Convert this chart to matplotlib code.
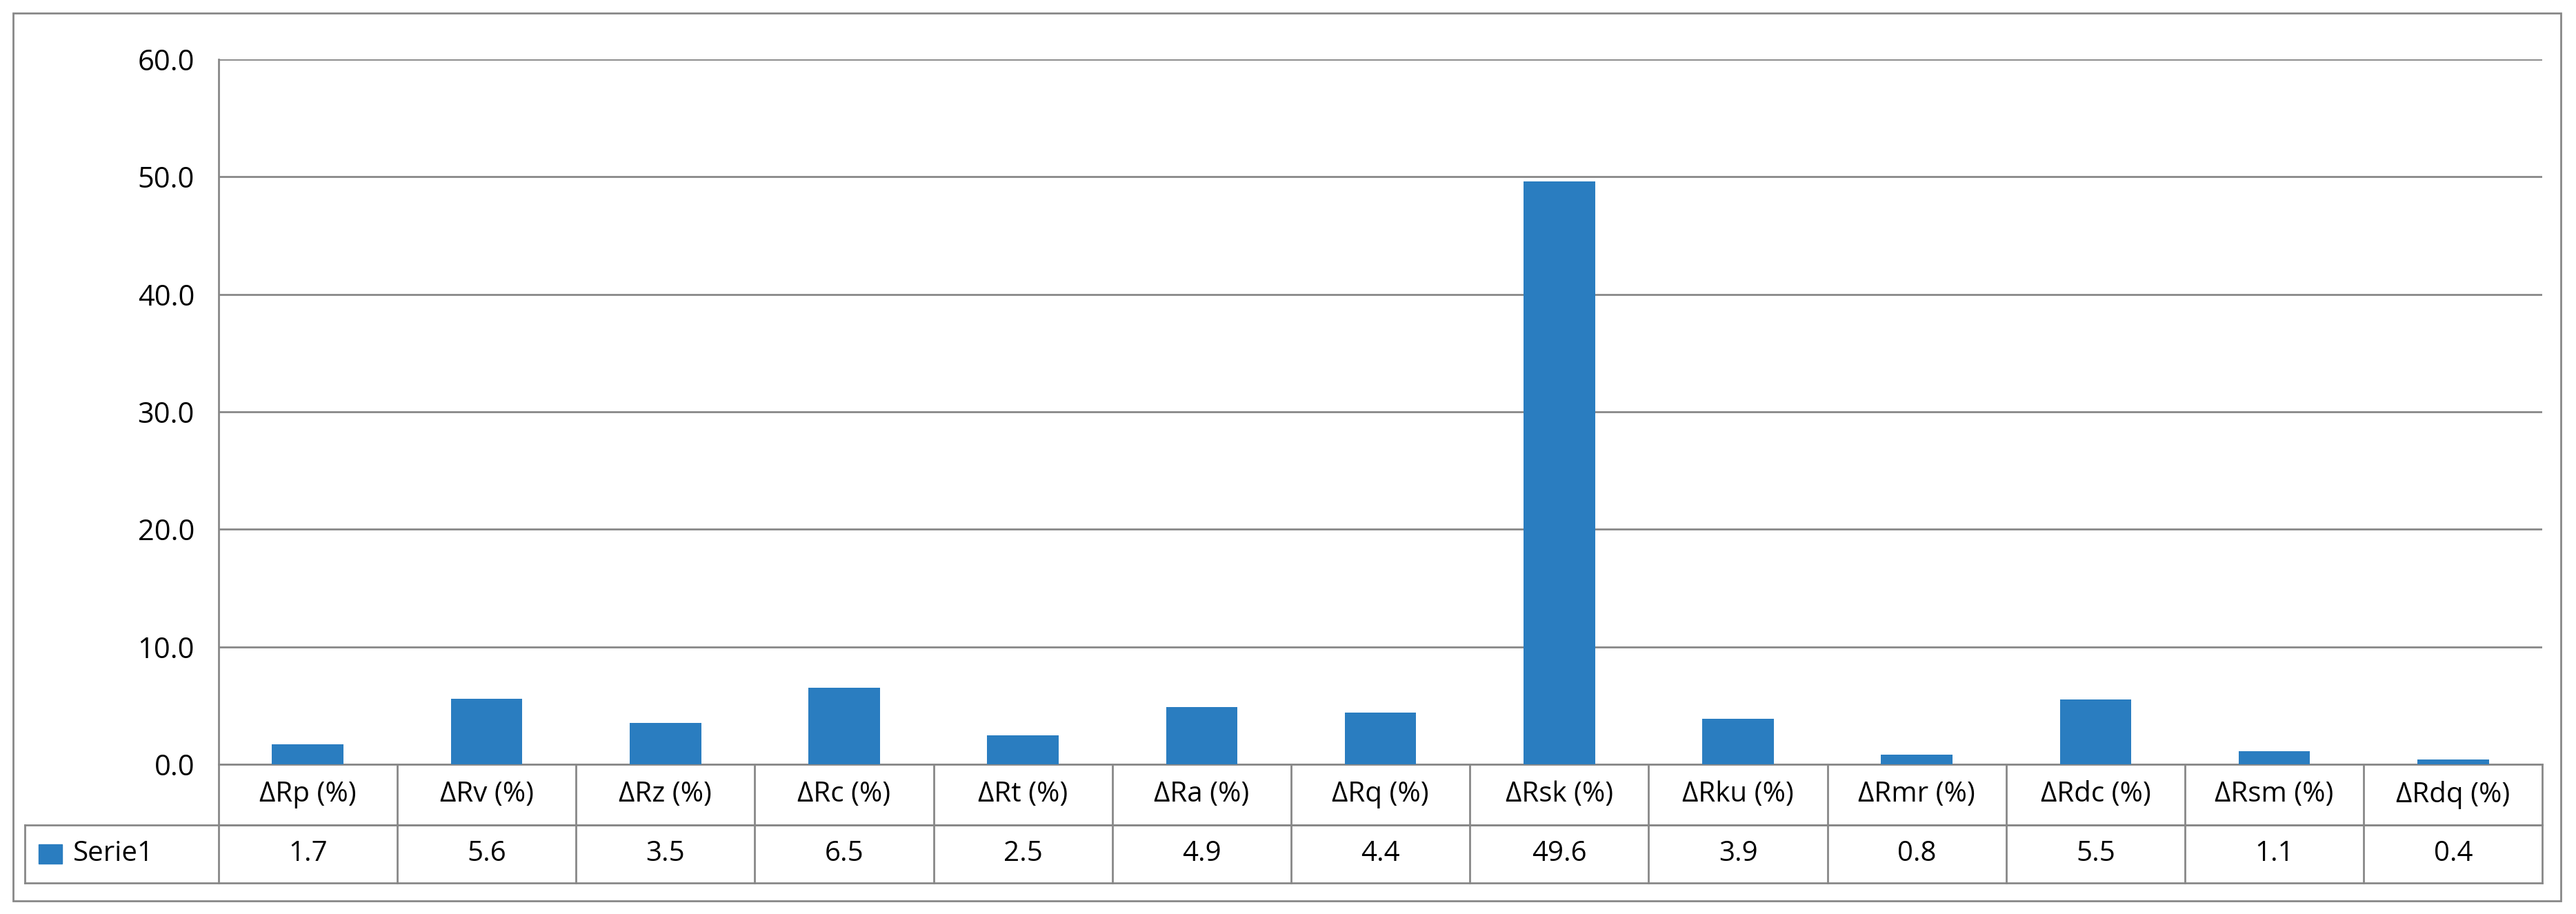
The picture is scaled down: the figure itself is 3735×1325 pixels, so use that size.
import matplotlib
matplotlib.use("Agg")
import matplotlib.pyplot as plt
from matplotlib.patches import Rectangle

categories = ["ΔRp (%)", "ΔRv (%)", "ΔRz (%)", "ΔRc (%)", "ΔRt (%)", "ΔRa (%)", "ΔRq (%)",
              "ΔRsk (%)", "ΔRku (%)", "ΔRmr (%)", "ΔRdc (%)", "ΔRsm (%)", "ΔRdq (%)"]
values = [1.7, 5.6, 3.5, 6.5, 2.5, 4.9, 4.4, 49.6, 3.9, 0.8, 5.5, 1.1, 0.4]
series_name = "Serie1"
yticks = [0, 10, 20, 30, 40, 50, 60]

plt.rcParams['font.family'] = ['Open Sans', 'DejaVu Sans']
color = "#2a7dc0"
fig = plt.figure(figsize=(37.35, 13.25), dpi=100)
ax = fig.add_axes([0.0848, 0.1637, 0.9022, 0.7713])
n = len(categories)
x = list(range(n))
ax.bar(x, values, width=0.4, color=color, zorder=3)
ax.set_xlim(-0.5, n - 0.5)
ax.set_ylim(0, 60)
ax.set_yticks(yticks)
ax.set_yticklabels([f"{v:.1f}" for v in yticks], fontsize=30)
ax.tick_params(axis='y', length=0, pad=25)
ax.set_xticks([])
ax.grid(axis='y', color='#888888', linewidth=2, zorder=0)
for s in ['top', 'right', 'bottom']:
    ax.spines[s].set_visible(False)
ax.spines['left'].set_color('#888888')
ax.spines['left'].set_linewidth(2)

tr = ax.get_xaxis_transform()
h1, h2 = -0.086, -0.168
lc = dict(color='#888888', linewidth=2, clip_on=False, transform=tr)
ax.plot([-0.5, n - 0.5], [0, 0], **lc)
ax.plot([-0.5, n - 0.5], [h1, h1], **lc)
legx = -0.5 - 1.084
ax.plot([legx, n - 0.5], [h1, h1], **lc)
ax.plot([legx, n - 0.5], [h2, h2], **lc)
ax.plot([legx, legx], [h1, h2], **lc)
for i in range(n + 1):
    ax.plot([i - 0.5, i - 0.5], [0, h2], **lc)
for i, (c, v) in enumerate(zip(categories, values)):
    ax.text(i, h1 / 2, c, ha='center', va='center', fontsize=29, transform=tr, clip_on=False)
    ax.text(i, (h1 + h2) / 2, f"{v:.1f}", ha='center', va='center', fontsize=29, transform=tr, clip_on=False)
ax.add_patch(Rectangle((legx + 0.08, (h1 + h2) / 2 - 0.014), 0.13, 0.028, color=color,
                       transform=tr, clip_on=False))
ax.text(legx + 0.27, (h1 + h2) / 2, series_name, ha='left', va='center', fontsize=29,
        transform=tr, clip_on=False)

fig.patches.append(Rectangle((0.005, 0.014), 0.989, 0.972, fill=False, edgecolor='#888888',
                             linewidth=2, transform=fig.transFigure))
fig.savefig("out.png", dpi=100)
